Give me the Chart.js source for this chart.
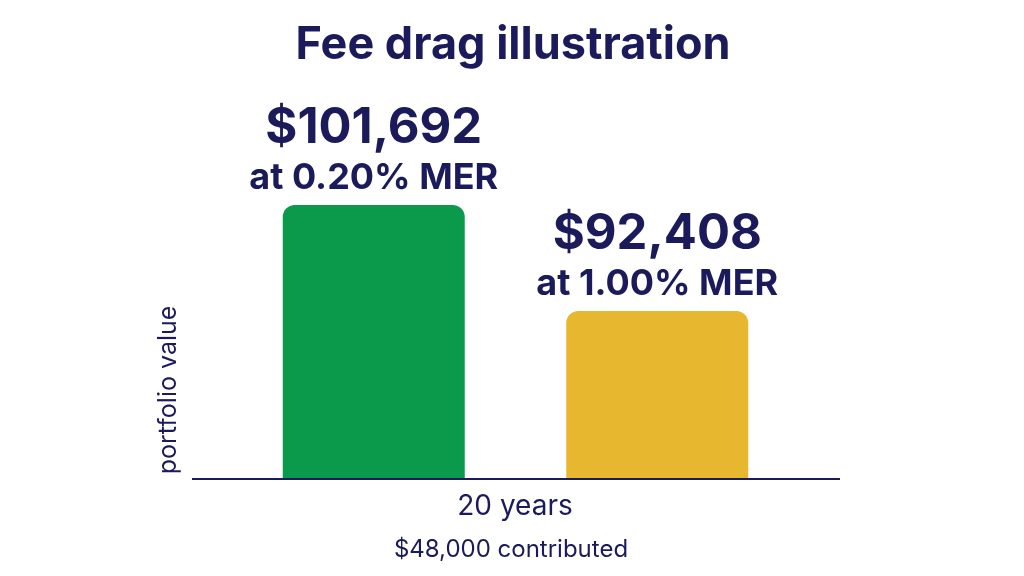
<!DOCTYPE html><html><head><style>html,body{margin:0;background:#fff}#w{width:1024px;height:576px}</style>
<script src="https://cdn.jsdelivr.net/npm/chart.js@4"></script></head><body><div id="w"><canvas id="c"></canvas></div><script>
const categories=["0.20% MER","1.00% MER"];
const values=[101692,92408];
const valueLabels=["$101,692","$92,408"];
const subLabels=["at 0.20% MER","at 1.00% MER"];
const colors=["#0b9a4b","#e8b730"];
const navy="#1b1b5c";
const F="Inter, 'Noto Sans', sans-serif";
const deco={id:'deco',afterDraw(ch){const c=ch.ctx,a=ch.chartArea,x=ch.scales.x,y=ch.scales.y;c.save();
c.fillStyle=navy;c.textAlign='center';c.textBaseline='middle';
c.font="bold 45px "+F;c.fillText("Fee drag illustration",513,45);
c.strokeStyle=navy;c.lineWidth=2;c.beginPath();c.moveTo(192,a.bottom+1);c.lineTo(840,a.bottom+1);c.stroke();
values.forEach((v,i)=>{const px=x.getPixelForValue(i),py=y.getPixelForValue(v);
c.font="bold 49px "+F;c.fillText(valueLabels[i],px,py-77);
c.font="bold 36px "+F;c.fillText(subLabels[i],px,py-27);});
c.font="28px "+F;c.fillText("20 years",515,507);
c.font="24px "+F;c.fillText("$48,000 contributed",511,550);
c.translate(168,390);c.rotate(-Math.PI/2);c.font="25px "+F;c.fillText("portfolio value",0,0);
c.restore();}};
new Chart(document.getElementById('c'),{type:'bar',data:{labels:categories,datasets:[{data:values,backgroundColor:colors,borderRadius:{topLeft:12,topRight:12},borderSkipped:'bottom',categoryPercentage:1,barPercentage:0.642}]},
options:{responsive:true,maintainAspectRatio:false,animation:false,layout:{padding:{left:232,right:225,top:100,bottom:98}},
plugins:{legend:{display:false},tooltip:{enabled:false}},
scales:{x:{display:false},y:{display:false,min:77800,max:110870}}},plugins:[deco]});
</script></body></html>
